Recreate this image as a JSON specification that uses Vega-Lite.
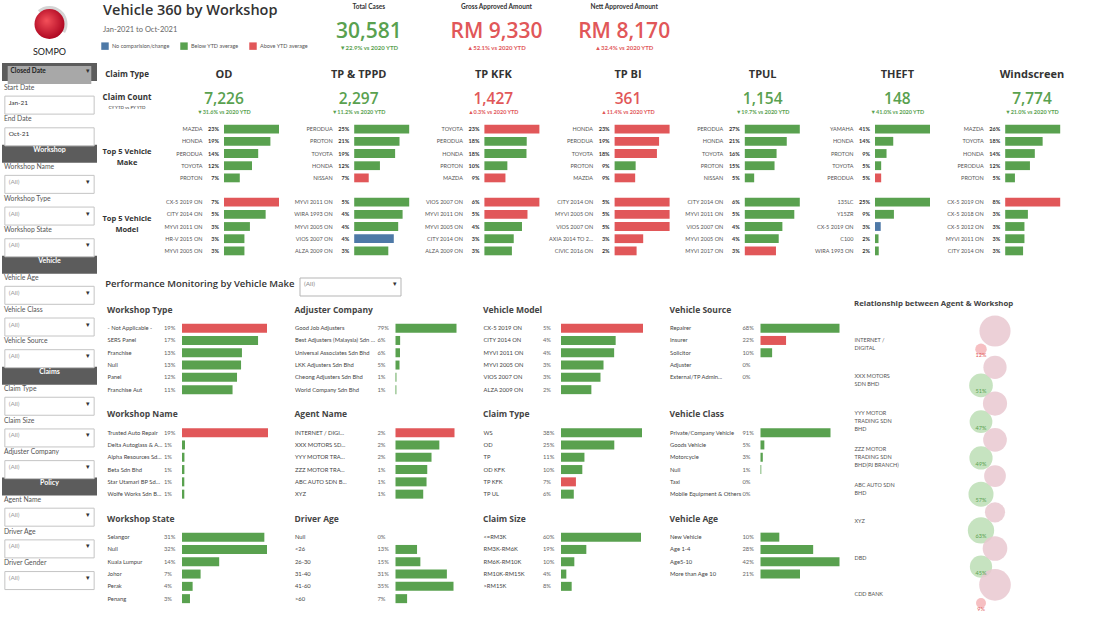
{
 "$schema": "https://vega.github.io/schema/vega-lite/v6.json",
 "background": "white",
 "padding": {"left": 2, "top": 2, "right": 2, "bottom": 2},
 "spacing": 5,
 "config": {
  "font": "Lato",
  "view": {"stroke": null},
  "axis": {"domain": false, "ticks": false, "grid": false, "labelFont": "Lato"},
  "title": {"anchor": "start", "fontSize": 8.5, "fontWeight": "bold", "color": "#444", "font": "Open Sans", "offset": 8},
  "header": {"labelFont": "Lato"},
  "locale": {"number": {"decimal": ".", "thousands": ",", "grouping": [3], "currency": ["RM ", ""]}}
 },
 "datasets": {
  "sidebar": [
   {"row": "Closed Date", "kind": "select", "text": "Closed Date"},
   {"row": "Start Date", "kind": "label", "text": "Start Date"},
   {"row": "Start Date input", "kind": "date", "text": "Jan-21"},
   {"row": "End Date", "kind": "label", "text": "End Date"},
   {"row": "End Date input", "kind": "date", "text": "Oct-21"},
   {"row": "Workshop", "kind": "header", "text": "Workshop"},
   {"row": "Workshop Name", "kind": "label", "text": "Workshop Name"},
   {"row": "Workshop Name input", "kind": "box", "text": "(All)"},
   {"row": "Workshop Type", "kind": "label", "text": "Workshop Type"},
   {"row": "Workshop Type input", "kind": "box", "text": "(All)"},
   {"row": "Workshop State", "kind": "label", "text": "Workshop State"},
   {"row": "Workshop State input", "kind": "box", "text": "(All)"},
   {"row": "Vehicle", "kind": "header", "text": "Vehicle"},
   {"row": "Vehicle Age", "kind": "label", "text": "Vehicle Age"},
   {"row": "Vehicle Age input", "kind": "box", "text": "(All)"},
   {"row": "Vehicle Class", "kind": "label", "text": "Vehicle Class"},
   {"row": "Vehicle Class input", "kind": "box", "text": "(All)"},
   {"row": "Vehicle Source", "kind": "label", "text": "Vehicle Source"},
   {"row": "Vehicle Source input", "kind": "box", "text": "(All)"},
   {"row": "Claims", "kind": "header", "text": "Claims"},
   {"row": "Claim Type", "kind": "label", "text": "Claim Type"},
   {"row": "Claim Type input", "kind": "box", "text": "(All)"},
   {"row": "Claim Size", "kind": "label", "text": "Claim Size"},
   {"row": "Claim Size input", "kind": "box", "text": "(All)"},
   {"row": "Adjuster Company", "kind": "label", "text": "Adjuster Company"},
   {"row": "Adjuster Company input", "kind": "box", "text": "(All)"},
   {"row": "Policy", "kind": "header", "text": "Policy"},
   {"row": "Agent Name", "kind": "label", "text": "Agent Name"},
   {"row": "Agent Name input", "kind": "box", "text": "(All)"},
   {"row": "Driver Age", "kind": "label", "text": "Driver Age"},
   {"row": "Driver Age input", "kind": "box", "text": "(All)"},
   {"row": "Driver Gender", "kind": "label", "text": "Driver Gender"},
   {"row": "Driver Gender input", "kind": "box", "text": "(All)"}
  ],
  "kpis": [
   {"metric": "Total Cases", "value": 30581, "delta": "▼22.9% vs 2020 YTD", "dir": "down"},
   {"metric": "Gross Approved Amount", "value": 9330, "delta": "▲52.1% vs 2020 YTD", "dir": "up"},
   {"metric": "Nett Approved Amount", "value": 8170, "delta": "▲32.4% vs 2020 YTD", "dir": "up"}
  ],
  "claims": [
   {"claim": "OD", "count": 7226, "delta": "▼31.6% vs 2020 YTD", "dir": "down"},
   {"claim": "TP & TPPD", "count": 2297, "delta": "▼11.2% vs 2020 YTD", "dir": "down"},
   {"claim": "TP KFK", "count": 1427, "delta": "▲0.3% vs 2020 YTD", "dir": "up"},
   {"claim": "TP BI", "count": 361, "delta": "▲11.4% vs 2020 YTD", "dir": "up"},
   {"claim": "TPUL", "count": 1154, "delta": "▼19.7% vs 2020 YTD", "dir": "down"},
   {"claim": "THEFT", "count": 148, "delta": "▼41.0% vs 2020 YTD", "dir": "down"},
   {"claim": "Windscreen", "count": 7774, "delta": "▼21.0% vs 2020 YTD", "dir": "down"}
  ],
  "top5": [
   {"claim": "OD", "section": "Make", "label": "MAZDA", "pct": 0.23, "status": "Below"},
   {"claim": "OD", "section": "Make", "label": "HONDA", "pct": 0.194, "status": "Below"},
   {"claim": "OD", "section": "Make", "label": "PERODUA", "pct": 0.143, "status": "Below"},
   {"claim": "OD", "section": "Make", "label": "TOYOTA", "pct": 0.117, "status": "Below"},
   {"claim": "OD", "section": "Make", "label": "PROTON", "pct": 0.066, "status": "Below"},
   {"claim": "OD", "section": "Model", "label": "CX-5 2019 ON", "pct": 0.07, "status": "Above"},
   {"claim": "OD", "section": "Model", "label": "CITY 2014 ON", "pct": 0.053, "status": "Below"},
   {"claim": "OD", "section": "Model", "label": "MYVI 2011 ON", "pct": 0.033, "status": "Below"},
   {"claim": "OD", "section": "Model", "label": "HR-V 2015 ON", "pct": 0.026, "status": "Below"},
   {"claim": "OD", "section": "Model", "label": "MYVI 2005 ON", "pct": 0.026, "status": "Below"},
   {"claim": "TP & TPPD", "section": "Make", "label": "PERODUA", "pct": 0.25, "status": "Below"},
   {"claim": "TP & TPPD", "section": "Make", "label": "PROTON", "pct": 0.206, "status": "Below"},
   {"claim": "TP & TPPD", "section": "Make", "label": "TOYOTA", "pct": 0.186, "status": "Below"},
   {"claim": "TP & TPPD", "section": "Make", "label": "HONDA", "pct": 0.117, "status": "Below"},
   {"claim": "TP & TPPD", "section": "Make", "label": "NISSAN", "pct": 0.066, "status": "Above"},
   {"claim": "TP & TPPD", "section": "Model", "label": "MYVI 2011 ON", "pct": 0.05, "status": "Below"},
   {"claim": "TP & TPPD", "section": "Model", "label": "WIRA 1993 ON", "pct": 0.044, "status": "Below"},
   {"claim": "TP & TPPD", "section": "Model", "label": "MYVI 2005 ON", "pct": 0.04, "status": "Below"},
   {"claim": "TP & TPPD", "section": "Model", "label": "VIOS 2007 ON", "pct": 0.036, "status": "None"},
   {"claim": "TP & TPPD", "section": "Model", "label": "ALZA 2009 ON", "pct": 0.031, "status": "Below"},
   {"claim": "TP KFK", "section": "Make", "label": "TOYOTA", "pct": 0.23, "status": "Above"},
   {"claim": "TP KFK", "section": "Make", "label": "PERODUA", "pct": 0.177, "status": "Below"},
   {"claim": "TP KFK", "section": "Make", "label": "HONDA", "pct": 0.176, "status": "Below"},
   {"claim": "TP KFK", "section": "Make", "label": "PROTON", "pct": 0.096, "status": "Below"},
   {"claim": "TP KFK", "section": "Make", "label": "MAZDA", "pct": 0.088, "status": "Above"},
   {"claim": "TP KFK", "section": "Model", "label": "VIOS 2007 ON", "pct": 0.06, "status": "Above"},
   {"claim": "TP KFK", "section": "Model", "label": "MYVI 2011 ON", "pct": 0.047, "status": "Above"},
   {"claim": "TP KFK", "section": "Model", "label": "MYVI 2005 ON", "pct": 0.041, "status": "Below"},
   {"claim": "TP KFK", "section": "Model", "label": "CITY 2014 ON", "pct": 0.032, "status": "Below"},
   {"claim": "TP KFK", "section": "Model", "label": "ALZA 2009 ON", "pct": 0.03, "status": "Below"},
   {"claim": "TP BI", "section": "Make", "label": "HONDA", "pct": 0.23, "status": "Above"},
   {"claim": "TP BI", "section": "Make", "label": "PERODUA", "pct": 0.186, "status": "Above"},
   {"claim": "TP BI", "section": "Make", "label": "TOYOTA", "pct": 0.177, "status": "Above"},
   {"claim": "TP BI", "section": "Make", "label": "PROTON", "pct": 0.088, "status": "Below"},
   {"claim": "TP BI", "section": "Make", "label": "MAZDA", "pct": 0.086, "status": "Above"},
   {"claim": "TP BI", "section": "Model", "label": "CITY 2014 ON", "pct": 0.05, "status": "Above"},
   {"claim": "TP BI", "section": "Model", "label": "MYVI 2005 ON", "pct": 0.05, "status": "Above"},
   {"claim": "TP BI", "section": "Model", "label": "VIOS 2007 ON", "pct": 0.05, "status": "Above"},
   {"claim": "TP BI", "section": "Model", "label": "AXIA 2014 TO 2019", "pct": 0.026, "status": "Above"},
   {"claim": "TP BI", "section": "Model", "label": "CIVIC 2016 ON", "pct": 0.02, "status": "Above"},
   {"claim": "TPUL", "section": "Make", "label": "PERODUA", "pct": 0.27, "status": "Below"},
   {"claim": "TPUL", "section": "Make", "label": "HONDA", "pct": 0.206, "status": "Below"},
   {"claim": "TPUL", "section": "Make", "label": "TOYOTA", "pct": 0.156, "status": "Below"},
   {"claim": "TPUL", "section": "Make", "label": "PROTON", "pct": 0.146, "status": "Below"},
   {"claim": "TPUL", "section": "Make", "label": "NISSAN", "pct": 0.046, "status": "Below"},
   {"claim": "TPUL", "section": "Model", "label": "CITY 2014 ON", "pct": 0.06, "status": "Below"},
   {"claim": "TPUL", "section": "Model", "label": "MYVI 2011 ON", "pct": 0.054, "status": "Below"},
   {"claim": "TPUL", "section": "Model", "label": "VIOS 2007 ON", "pct": 0.041, "status": "Below"},
   {"claim": "TPUL", "section": "Model", "label": "MYVI 2005 ON", "pct": 0.037, "status": "Below"},
   {"claim": "TPUL", "section": "Model", "label": "MYVI 2017 ON", "pct": 0.034, "status": "Above"},
   {"claim": "THEFT", "section": "Make", "label": "YAMAHA", "pct": 0.41, "status": "Below"},
   {"claim": "THEFT", "section": "Make", "label": "HONDA", "pct": 0.136, "status": "Below"},
   {"claim": "THEFT", "section": "Make", "label": "PROTON", "pct": 0.086, "status": "Below"},
   {"claim": "THEFT", "section": "Make", "label": "TOYOTA", "pct": 0.046, "status": "Below"},
   {"claim": "THEFT", "section": "Make", "label": "PERODUA", "pct": 0.046, "status": "Above"},
   {"claim": "THEFT", "section": "Model", "label": "135LC", "pct": 0.25, "status": "Below"},
   {"claim": "THEFT", "section": "Model", "label": "Y15ZR", "pct": 0.086, "status": "Below"},
   {"claim": "THEFT", "section": "Model", "label": "CX-5 2019 ON", "pct": 0.026, "status": "None"},
   {"claim": "THEFT", "section": "Model", "label": "C100", "pct": 0.016, "status": "Below"},
   {"claim": "THEFT", "section": "Model", "label": "WIRA 1993 ON", "pct": 0.017, "status": "Below"},
   {"claim": "Windscreen", "section": "Make", "label": "MAZDA", "pct": 0.26, "status": "Below"},
   {"claim": "Windscreen", "section": "Make", "label": "TOYOTA", "pct": 0.177, "status": "Below"},
   {"claim": "Windscreen", "section": "Make", "label": "HONDA", "pct": 0.14, "status": "Below"},
   {"claim": "Windscreen", "section": "Make", "label": "PERODUA", "pct": 0.117, "status": "Below"},
   {"claim": "Windscreen", "section": "Make", "label": "PROTON", "pct": 0.046, "status": "Below"},
   {"claim": "Windscreen", "section": "Model", "label": "CX-5 2019 ON", "pct": 0.08, "status": "Above"},
   {"claim": "Windscreen", "section": "Model", "label": "CX-5 2018 ON", "pct": 0.033, "status": "Below"},
   {"claim": "Windscreen", "section": "Model", "label": "CX-5 2012 ON", "pct": 0.028, "status": "Below"},
   {"claim": "Windscreen", "section": "Model", "label": "MYVI 2011 ON", "pct": 0.028, "status": "Below"},
   {"claim": "Windscreen", "section": "Model", "label": "CITY 2014 ON", "pct": 0.026, "status": "Below"}
  ],
  "panels": [
   {"panel": "Workshop Type", "label": "- Not Applicable -", "pct": 0.19, "status": "Above"},
   {"panel": "Workshop Type", "label": "SERS Panel", "pct": 0.17, "status": "Below"},
   {"panel": "Workshop Type", "label": "Franchise", "pct": 0.134, "status": "Below"},
   {"panel": "Workshop Type", "label": "Null", "pct": 0.132, "status": "Below"},
   {"panel": "Workshop Type", "label": "Panel", "pct": 0.123, "status": "Below"},
   {"panel": "Workshop Type", "label": "Franchise Aut", "pct": 0.113, "status": "Below"},
   {"panel": "Adjuster Company", "label": "Good Job Adjusters", "pct": 0.79, "status": "Below"},
   {"panel": "Adjuster Company", "label": "Best Adjusters (Malaysia) Sdn Bhd", "pct": 0.06, "status": "Below"},
   {"panel": "Adjuster Company", "label": "Universal Associates Sdn Bhd", "pct": 0.058, "status": "Below"},
   {"panel": "Adjuster Company", "label": "LKK Adjusters Sdn Bhd", "pct": 0.052, "status": "Below"},
   {"panel": "Adjuster Company", "label": "Cheong Adjusters Sdn Bhd", "pct": 0.012, "status": "Below"},
   {"panel": "Adjuster Company", "label": "World Company Sdn Bhd", "pct": 0.011, "status": "Below"},
   {"panel": "Vehicle Model", "label": "CX-5 2019 ON", "pct": 0.054, "status": "Above"},
   {"panel": "Vehicle Model", "label": "CITY 2014 ON", "pct": 0.036, "status": "Below"},
   {"panel": "Vehicle Model", "label": "MYVI 2011 ON", "pct": 0.035, "status": "Below"},
   {"panel": "Vehicle Model", "label": "MYVI 2005 ON", "pct": 0.028, "status": "Below"},
   {"panel": "Vehicle Model", "label": "VIOS 2007 ON", "pct": 0.026, "status": "Below"},
   {"panel": "Vehicle Model", "label": "ALZA 2009 ON", "pct": 0.02, "status": "Below"},
   {"panel": "Vehicle Source", "label": "Repairer", "pct": 0.68, "status": "Below"},
   {"panel": "Vehicle Source", "label": "Insurer", "pct": 0.22, "status": "Above"},
   {"panel": "Vehicle Source", "label": "Solicitor", "pct": 0.1, "status": "Below"},
   {"panel": "Vehicle Source", "label": "Adjuster", "pct": 0, "status": "Below"},
   {"panel": "Vehicle Source", "label": "External/TP Admin...", "pct": 0, "status": "Below"},
   {"panel": "Workshop Name", "label": "Trusted Auto Repair", "pct": 0.19, "status": "Above"},
   {"panel": "Workshop Name", "label": "Delta Autoglass & Acce...", "pct": 0.0066, "status": "Below"},
   {"panel": "Workshop Name", "label": "Alpha Resources Sdn B...", "pct": 0.0054, "status": "Below"},
   {"panel": "Workshop Name", "label": "Beta Sdn Bhd", "pct": 0.0053, "status": "Below"},
   {"panel": "Workshop Name", "label": "Star Utamari BP Sdn B...", "pct": 0.0051, "status": "Below"},
   {"panel": "Workshop Name", "label": "Wolfe Works Sdn Bhd", "pct": 0.0051, "status": "Below"},
   {"panel": "Agent Name", "label": "INTERNET / DIGI...", "pct": 0.0249, "status": "Above"},
   {"panel": "Agent Name", "label": "XXX MOTORS SD...", "pct": 0.0185, "status": "Below"},
   {"panel": "Agent Name", "label": "YYY MOTOR TRA...", "pct": 0.0152, "status": "Below"},
   {"panel": "Agent Name", "label": "ZZZ MOTOR TRA...", "pct": 0.0134, "status": "Below"},
   {"panel": "Agent Name", "label": "ABC AUTO SDN B...", "pct": 0.0131, "status": "Below"},
   {"panel": "Agent Name", "label": "XYZ", "pct": 0.0117, "status": "Below"},
   {"panel": "Claim Type", "label": "WS", "pct": 0.38, "status": "Below"},
   {"panel": "Claim Type", "label": "OD", "pct": 0.25, "status": "Below"},
   {"panel": "Claim Type", "label": "TP", "pct": 0.11, "status": "Below"},
   {"panel": "Claim Type", "label": "OD KFK", "pct": 0.1, "status": "Below"},
   {"panel": "Claim Type", "label": "TP KFK", "pct": 0.07, "status": "Above"},
   {"panel": "Claim Type", "label": "TP UL", "pct": 0.06, "status": "Below"},
   {"panel": "Vehicle Class", "label": "Private/Company Vehicle", "pct": 0.91, "status": "Below"},
   {"panel": "Vehicle Class", "label": "Goods Vehicle", "pct": 0.05, "status": "Below"},
   {"panel": "Vehicle Class", "label": "Motorcycle", "pct": 0.03, "status": "Below"},
   {"panel": "Vehicle Class", "label": "Null", "pct": 0.01, "status": "Below"},
   {"panel": "Vehicle Class", "label": "Taxi", "pct": 0, "status": "Below"},
   {"panel": "Vehicle Class", "label": "Mobile Equipment & Others", "pct": 0, "status": "Below"},
   {"panel": "Workshop State", "label": "Selangor", "pct": 0.31, "status": "Below"},
   {"panel": "Workshop State", "label": "Null", "pct": 0.32, "status": "Below"},
   {"panel": "Workshop State", "label": "Kuala Lumpur", "pct": 0.14, "status": "Below"},
   {"panel": "Workshop State", "label": "Johor", "pct": 0.07, "status": "Below"},
   {"panel": "Workshop State", "label": "Perak", "pct": 0.04, "status": "Below"},
   {"panel": "Workshop State", "label": "Penang", "pct": 0.03, "status": "Below"},
   {"panel": "Driver Age", "label": "Null", "pct": 0, "status": "Below"},
   {"panel": "Driver Age", "label": "<26", "pct": 0.13, "status": "Below"},
   {"panel": "Driver Age", "label": "26-30", "pct": 0.15, "status": "Below"},
   {"panel": "Driver Age", "label": "31-40", "pct": 0.31, "status": "Below"},
   {"panel": "Driver Age", "label": "41-60", "pct": 0.35, "status": "Below"},
   {"panel": "Driver Age", "label": ">60", "pct": 0.07, "status": "Below"},
   {"panel": "Claim Size", "label": "<=RM3K", "pct": 0.6, "status": "Below"},
   {"panel": "Claim Size", "label": "RM3K-RM6K", "pct": 0.19, "status": "Below"},
   {"panel": "Claim Size", "label": "RM6K-RM10K", "pct": 0.1, "status": "Below"},
   {"panel": "Claim Size", "label": "RM10K-RM15K", "pct": 0.04, "status": "Below"},
   {"panel": "Claim Size", "label": ">RM15K", "pct": 0.08, "status": "Below"},
   {"panel": "Vehicle Age", "label": "New Vehicle", "pct": 0.1, "status": "Below"},
   {"panel": "Vehicle Age", "label": "Age 1-4", "pct": 0.28, "status": "Below"},
   {"panel": "Vehicle Age", "label": "Age5-10", "pct": 0.42, "status": "Below"},
   {"panel": "Vehicle Age", "label": "More than Age 10", "pct": 0.21, "status": "Below"}
  ],
  "agents": [
   {"agent": "INTERNET / DIGITAL", "part": "Top workshop", "share": 0.12, "status": "Above"},
   {"agent": "INTERNET / DIGITAL", "part": "Other workshops", "share": 0.88, "status": "Mixed"},
   {"agent": "XXX MOTORS SDN BHD", "part": "Top workshop", "share": 0.51, "status": "Below"},
   {"agent": "XXX MOTORS SDN BHD", "part": "Other workshops", "share": 0.49, "status": "Mixed"},
   {"agent": "YYY MOTOR TRADING SDN BHD", "part": "Top workshop", "share": 0.47, "status": "Below"},
   {"agent": "YYY MOTOR TRADING SDN BHD", "part": "Other workshops", "share": 0.53, "status": "Mixed"},
   {"agent": "ZZZ MOTOR TRADING SDN BHD(PJ BRANCH)", "part": "Top workshop", "share": 0.49, "status": "Below"},
   {"agent": "ZZZ MOTOR TRADING SDN BHD(PJ BRANCH)", "part": "Other workshops", "share": 0.51, "status": "Mixed"},
   {"agent": "ABC AUTO SDN BHD", "part": "Top workshop", "share": 0.57, "status": "Below"},
   {"agent": "ABC AUTO SDN BHD", "part": "Other workshops", "share": 0.43, "status": "Mixed"},
   {"agent": "XYZ", "part": "Top workshop", "share": 0.63, "status": "Below"},
   {"agent": "XYZ", "part": "Other workshops", "share": 0.37, "status": "Mixed"},
   {"agent": "DBD", "part": "Top workshop", "share": 0.45, "status": "Below"},
   {"agent": "DBD", "part": "Other workshops", "share": 0.55, "status": "Mixed"},
   {"agent": "CDD BANK", "part": "Top workshop", "share": 0.09, "status": "Above"},
   {"agent": "CDD BANK", "part": "Other workshops", "share": 0.91, "status": "Mixed"}
  ]
 },
 "hconcat": [
  {
   "spacing": 6,
   "vconcat": [
    {
     "data": {"values": [{"brand": "SOMPO"}]},
     "width": 95, "height": 44,
     "title": {"text": "SOMPO", "orient": "bottom", "anchor": "middle", "fontSize": 9, "fontWeight": "normal", "color": "#1a1a1a", "font": "Lato", "offset": 2},
     "layer": [
      {"mark": {"type": "arc", "innerRadius": 14, "outerRadius": 18, "theta": -0.7, "theta2": 2.1, "color": "#d4d4d4"}, "encoding": {}},
      {"mark": {"type": "arc", "outerRadius": 15, "theta": 0, "theta2": 6.2832, "color": {"gradient": "radial", "x1": 0.4, "y1": 0.38, "r1": 0, "x2": 0.45, "y2": 0.45, "r2": 0.62, "stops": [{"offset": 0, "color": "#f4505a"}, {"offset": 1, "color": "#a8001c"}]}}, "encoding": {}}
     ]
    },
    {
     "data": {"name": "sidebar"},
     "width": 95, "height": 523,
     "encoding": {"y": {"field": "row", "type": "nominal", "scale": {"domain": ["Closed Date", "Start Date", "Start Date input", "End Date", "End Date input", "Workshop", "Workshop Name", "Workshop Name input", "Workshop Type", "Workshop Type input", "Workshop State", "Workshop State input", "Vehicle", "Vehicle Age", "Vehicle Age input", "Vehicle Class", "Vehicle Class input", "Vehicle Source", "Vehicle Source input", "Claims", "Claim Type", "Claim Type input", "Claim Size", "Claim Size input", "Adjuster Company", "Adjuster Company input", "Policy", "Agent Name", "Agent Name input", "Driver Age", "Driver Age input", "Driver Gender", "Driver Gender input"], "paddingInner": 0, "paddingOuter": 0}, "axis": null}},
     "layer": [
      {"transform": [{"filter": "datum.kind == 'select'"}], "mark": {"type": "bar", "color": "#5c5c5c"}, "encoding": {"x": {"datum": 0, "type": "quantitative", "scale": {"domain": [0, 1], "nice": false, "zero": false}, "axis": null}, "x2": {"datum": 1}}},
      {"transform": [{"filter": "datum.kind == 'select'"}], "mark": {"type": "bar", "color": "#a8a8a8", "height": {"band": 0.62}}, "encoding": {"x": {"datum": 0.06, "type": "quantitative"}, "x2": {"datum": 0.94}}},
      {"transform": [{"filter": "datum.kind == 'header'"}], "mark": {"type": "bar", "color": "#5c5c5c", "height": {"band": 0.68}}, "encoding": {"x": {"datum": 0, "type": "quantitative"}, "x2": {"datum": 1}}},
      {"transform": [{"filter": "datum.kind == 'box' || datum.kind == 'date'"}], "mark": {"type": "bar", "fill": "white", "stroke": "#c4c4c4", "strokeWidth": 1, "height": {"band": 0.82}}, "encoding": {"x": {"datum": 0.03, "type": "quantitative"}, "x2": {"datum": 0.97}}},
      {"transform": [{"filter": "datum.kind == 'header'"}], "mark": {"type": "text", "color": "white", "fontWeight": "bold", "fontSize": 7}, "encoding": {"x": {"datum": 0.5, "type": "quantitative"}, "text": {"field": "text"}}},
      {"transform": [{"filter": "datum.kind == 'label'"}], "mark": {"type": "text", "align": "left", "color": "#555", "fontSize": 6.8, "dy": 1}, "encoding": {"x": {"datum": 0.02, "type": "quantitative"}, "text": {"field": "text"}}},
      {"transform": [{"filter": "datum.kind == 'select'"}], "mark": {"type": "text", "align": "left", "color": "#222", "fontWeight": "bold", "fontSize": 6.5}, "encoding": {"x": {"datum": 0.09, "type": "quantitative"}, "text": {"field": "text"}}},
      {"transform": [{"filter": "datum.kind == 'box'"}], "mark": {"type": "text", "align": "left", "color": "#9a9a9a", "fontSize": 6.5}, "encoding": {"x": {"datum": 0.07, "type": "quantitative"}, "text": {"field": "text"}}},
      {"transform": [{"filter": "datum.kind == 'date'"}], "mark": {"type": "text", "align": "left", "color": "#333", "fontSize": 6.5}, "encoding": {"x": {"datum": 0.07, "type": "quantitative"}, "text": {"field": "text"}}},
      {"transform": [{"filter": "datum.kind == 'box' || datum.kind == 'select'"}], "mark": {"type": "text", "align": "right", "color": "#333", "fontSize": 7}, "encoding": {"x": {"datum": 0.93, "type": "quantitative"}, "text": {"value": "▾"}}}
     ]
    }
   ]
  },
  {
   "spacing": 15,
   "vconcat": [
    {
     "spacing": 6,
     "vconcat": [
      {
       "spacing": 12,
       "hconcat": [
        {
         "data": {"values": [{"line": "title", "text": "Vehicle 360 by Workshop"}, {"line": "subtitle", "text": "Jan-2021 to Oct-2021"}]},
         "width": 190, "height": 52,
         "encoding": {
          "x": {"datum": 0, "type": "quantitative", "scale": {"domain": [0, 1], "nice": false}, "axis": null},
          "y": {"field": "line", "type": "nominal", "scale": {"domain": ["title", "subtitle", "legend"], "paddingInner": 0, "paddingOuter": 0}, "axis": null},
          "text": {"field": "text"}
         },
         "layer": [
          {"transform": [{"filter": "datum.line == 'title'"}], "mark": {"type": "text", "align": "left", "fontSize": 14.5, "fontWeight": 600, "font": "Open Sans", "color": "#333"}},
          {"transform": [{"filter": "datum.line == 'subtitle'"}], "mark": {"type": "text", "align": "left", "fontSize": 7.5, "color": "#666", "dy": 2}}
         ]
        },
        {
         "data": {"name": "kpis"},
         "width": 383, "height": 52,
         "encoding": {"x": {"field": "metric", "type": "nominal", "scale": {"domain": ["Total Cases", "Gross Approved Amount", "Nett Approved Amount"], "paddingInner": 0, "paddingOuter": 0}, "axis": null}},
         "layer": [
          {"mark": {"type": "text", "fontSize": 6.5, "fontWeight": "bold", "color": "#333", "dy": -4}, "encoding": {"y": {"datum": "metric", "type": "nominal", "scale": {"domain": ["metric", "value", "delta"], "paddingInner": 0, "paddingOuter": 0}, "axis": null}, "text": {"field": "metric"}}},
          {"transform": [{"filter": "datum.metric == 'Total Cases'"}], "mark": {"type": "text", "fontSize": 21, "font": "Open Sans", "fontWeight": 600, "dy": 4}, "encoding": {"y": {"datum": "value", "type": "nominal"}, "text": {"field": "value", "type": "quantitative", "format": ","}, "color": {"condition": {"test": "datum.dir == 'up'", "value": "#e15759"}, "value": "#59a14f"}}},
          {"transform": [{"filter": "datum.metric != 'Total Cases'"}], "mark": {"type": "text", "fontSize": 21, "font": "Open Sans", "fontWeight": 600, "dy": 4}, "encoding": {"y": {"datum": "value", "type": "nominal"}, "text": {"field": "value", "type": "quantitative", "format": "$,"}, "color": {"condition": {"test": "datum.dir == 'up'", "value": "#e15759"}, "value": "#59a14f"}}},
          {"mark": {"type": "text", "fontSize": 6, "fontWeight": "bold", "dy": 3}, "encoding": {"y": {"datum": "delta", "type": "nominal"}, "text": {"field": "delta"}, "color": {"condition": {"test": "datum.dir == 'up'", "value": "#e15759"}, "value": "#59a14f"}}}
         ]
        }
       ]
      },
      {
       "spacing": 4,
       "hconcat": [
        {
         "spacing": 5,
         "vconcat": [
          {
           "data": {"values": [{"line": "Claim Type"}, {"line": "Claim Count"}]},
           "width": 48, "height": 58,
           "encoding": {
            "x": {"datum": 0.5, "type": "quantitative", "scale": {"domain": [0, 1], "nice": false}, "axis": null},
            "y": {"field": "line", "type": "nominal", "scale": {"domain": ["Claim Type", "Claim Count"], "paddingInner": 0, "paddingOuter": 0}, "axis": null}
           },
           "layer": [
            {"transform": [{"filter": "datum.line == 'Claim Type'"}], "mark": {"type": "text", "fontSize": 8, "fontWeight": "bold", "font": "Open Sans", "color": "#333"}, "encoding": {"text": {"field": "line"}}},
            {"transform": [{"filter": "datum.line == 'Claim Count'"}], "mark": {"type": "text", "fontSize": 8, "fontWeight": "bold", "font": "Open Sans", "color": "#333", "dy": -6}, "encoding": {"text": {"field": "line"}}},
            {"transform": [{"filter": "datum.line == 'Claim Count'"}], "mark": {"type": "text", "fontSize": 4.5, "color": "#333", "dy": 4}, "encoding": {"text": {"value": "CY YTD vs PY YTD"}}}
           ]
          },
          {
           "data": {"values": [{"section": "Make"}, {"section": "Model"}]},
           "width": 48, "height": 134,
           "encoding": {
            "x": {"datum": 0.5, "type": "quantitative", "scale": {"domain": [0, 1], "nice": false}, "axis": null},
            "y": {"field": "section", "type": "nominal", "scale": {"domain": ["Make", "Model"], "paddingInner": 0.12, "paddingOuter": 0}, "axis": null}
           },
           "layer": [
            {"mark": {"type": "text", "fontSize": 7.5, "fontWeight": "bold", "font": "Open Sans", "color": "#333", "dy": -5}, "encoding": {"text": {"value": "Top 5 Vehicle"}}},
            {"mark": {"type": "text", "fontSize": 7.5, "fontWeight": "bold", "font": "Open Sans", "color": "#333", "dy": 6}, "encoding": {"text": {"field": "section"}}}
           ]
          }
         ]
        },
        {
         "spacing": 5,
         "vconcat": [
          {
           "data": {"name": "claims"},
           "width": 808, "height": 58,
           "encoding": {"x": {"field": "claim", "type": "nominal", "sort": ["OD", "TP & TPPD", "TP KFK", "TP BI", "TPUL", "THEFT", "Windscreen"], "scale": {"type": "point", "padding": 0}, "axis": null}},
           "layer": [
            {"mark": {"type": "text", "fontSize": 11, "fontWeight": "bold", "font": "Open Sans", "color": "#333"}, "encoding": {"y": {"datum": "Claim Type", "type": "nominal", "scale": {"domain": ["Claim Type", "Claim Count"], "paddingInner": 0, "paddingOuter": 0}, "axis": null}, "text": {"field": "claim"}}},
            {"mark": {"type": "text", "fontSize": 15.5, "fontWeight": 600, "font": "Open Sans", "dy": -5}, "encoding": {"y": {"datum": "Claim Count", "type": "nominal"}, "text": {"field": "count", "type": "quantitative", "format": ","}, "color": {"condition": {"test": "datum.dir == 'up'", "value": "#e15759"}, "value": "#59a14f"}}},
            {"mark": {"type": "text", "fontSize": 5.5, "fontWeight": "bold", "dy": 8}, "encoding": {"y": {"datum": "Claim Count", "type": "nominal"}, "text": {"field": "delta"}, "color": {"condition": {"test": "datum.dir == 'up'", "value": "#e15759"}, "value": "#59a14f"}}}
           ]
          },
          {
           "data": {"name": "top5"},
           "facet": {
            "row": {"field": "section", "type": "nominal", "sort": ["Make", "Model"], "title": null, "header": {"labels": false}},
            "column": {"field": "claim", "type": "nominal", "sort": ["OD", "TP & TPPD", "TP KFK", "TP BI", "TPUL", "THEFT", "Windscreen"], "title": null, "header": {"labels": false}}
           },
           "spacing": {"row": 12, "column": 2.2},
           "resolve": {"scale": {"x": "independent", "y": "independent"}},
           "spec": {
            "width": 55, "height": 61,
            "encoding": {
             "y": {"field": "label", "type": "nominal", "sort": null, "scale": {"type": "band", "paddingInner": 0, "paddingOuter": 0}, "axis": {"title": null, "labelFontSize": 5.5, "labelColor": "#555", "labelPadding": 22, "labelLimit": 45, "minExtent": 68, "maxExtent": 68, "labelOverlap": false}}
            },
            "layer": [
             {"mark": {"type": "rule", "strokeWidth": 8.8, "strokeCap": "butt"}, "encoding": {"x": {"field": "pct", "type": "quantitative", "scale": {"nice": false, "zero": true}, "axis": null}, "x2": {"datum": 0}, "color": {"field": "status", "type": "nominal", "scale": {"domain": ["None", "Below", "Above"], "range": ["#4e79a7", "#59a14f", "#e15759"]}, "legend": {"title": null, "orient": "none", "legendX": 99, "legendY": 40, "direction": "horizontal", "symbolType": "square", "symbolSize": 12, "symbolStrokeWidth": 4, "labelFontSize": 5.5, "labelColor": "#555", "columnPadding": 4, "labelOffset": 3, "labelExpr": "datum.value == 'None' ? 'No comparision/change' : datum.value == 'Below' ? 'Below YTD average' : 'Above YTD average'"}}}},
             {"mark": {"type": "text", "align": "right", "dx": -5, "fontSize": 5.5, "fontWeight": "bold", "color": "#333"}, "encoding": {"x": {"datum": 0, "type": "quantitative"}, "text": {"field": "pct", "type": "quantitative", "format": ".0%"}}}
            ]
           }
          }
         ]
        }
       ]
      }
     ]
    },
    {
     "spacing": 2,
     "vconcat": [
      {
       "spacing": 0,
       "hconcat": [
        {"data": {"values": [{}]}, "width": 1, "height": 1, "mark": {"type": "text", "text": ""}, "encoding": {}},
        {
         "data": {"values": [{"selection": "(All)"}]},
         "width": 101, "height": 12,
         "encoding": {"y": {"datum": "Performance Monitoring by Vehicle Make", "type": "nominal", "scale": {"paddingInner": 0, "paddingOuter": 0}, "axis": {"title": null, "labelFontSize": 9.5, "labelFontWeight": 600, "labelFont": "Open Sans", "labelColor": "#333", "labelPadding": 6, "labelLimit": 300}}},
         "layer": [
          {"mark": {"type": "bar", "fill": "white", "stroke": "#b5b5b5", "strokeWidth": 1}, "encoding": {"x": {"datum": 0, "type": "quantitative", "scale": {"domain": [0, 1], "nice": false}, "axis": null}, "x2": {"datum": 1}}},
          {"mark": {"type": "text", "align": "left", "dx": 4, "fontSize": 6.5, "color": "#888"}, "encoding": {"x": {"datum": 0, "type": "quantitative"}, "text": {"field": "selection"}}},
          {"mark": {"type": "text", "align": "right", "dx": -4, "fontSize": 7, "color": "#333"}, "encoding": {"x": {"datum": 1, "type": "quantitative"}, "text": {"value": "▾"}}}
         ]
        }
       ]
      },
      {
       "spacing": 3,
       "hconcat": [
        {"data": {"values": [{}]}, "width": 1, "height": 1, "mark": {"type": "text", "text": ""}, "encoding": {}},
        {
         "spacing": 10,
         "hconcat": [
          {
           "columns": 4,
           "align": "each",
           "spacing": {"row": 13.5, "column": 21.5},
           "concat": [
            {"title": "Workshop Type", "data": {"name": "panels"}, "transform": [{"filter": "datum.panel == 'Workshop Type'"}], "width": 85, "height": {"step": 12.3},
             "encoding": {"y": {"field": "label", "type": "nominal", "sort": null, "scale": {"type": "band", "paddingInner": 0, "paddingOuter": 0}, "axis": {"title": null, "labelAlign": "left", "labelPadding": 75, "labelLimit": 56, "labelFontSize": 5.8, "labelColor": "#444", "labelOverlap": false}}},
             "layer": [{"mark": {"type": "rule", "strokeWidth": 9, "strokeCap": "butt"}, "encoding": {"x": {"field": "pct", "type": "quantitative", "scale": {"nice": false, "zero": true}, "axis": null}, "x2": {"datum": 0}, "color": {"field": "status", "type": "nominal", "scale": {"domain": ["None", "Below", "Above"], "range": ["#4e79a7", "#59a14f", "#e15759"]}, "legend": null}}},
                       {"mark": {"type": "text", "align": "left", "dx": -18, "fontSize": 5.8, "color": "#666"}, "encoding": {"x": {"datum": 0, "type": "quantitative"}, "text": {"field": "pct", "type": "quantitative", "format": ".0%"}}}]},
            {"title": "Adjuster Company", "data": {"name": "panels"}, "transform": [{"filter": "datum.panel == 'Adjuster Company'"}], "width": 61, "height": {"step": 12.3},
             "encoding": {"y": {"field": "label", "type": "nominal", "sort": null, "scale": {"type": "band", "paddingInner": 0, "paddingOuter": 0}, "axis": {"title": null, "labelAlign": "left", "labelPadding": 101, "labelLimit": 82, "labelFontSize": 5.8, "labelColor": "#444", "labelOverlap": false}}},
             "layer": [{"mark": {"type": "rule", "strokeWidth": 9, "strokeCap": "butt"}, "encoding": {"x": {"field": "pct", "type": "quantitative", "scale": {"nice": false, "zero": true}, "axis": null}, "x2": {"datum": 0}, "color": {"field": "status", "type": "nominal", "scale": {"domain": ["None", "Below", "Above"], "range": ["#4e79a7", "#59a14f", "#e15759"]}, "legend": null}}},
                       {"mark": {"type": "text", "align": "left", "dx": -18, "fontSize": 5.8, "color": "#666"}, "encoding": {"x": {"datum": 0, "type": "quantitative"}, "text": {"field": "pct", "type": "quantitative", "format": ".0%"}}}]},
            {"title": "Vehicle Model", "data": {"name": "panels"}, "transform": [{"filter": "datum.panel == 'Vehicle Model'"}], "width": 82, "height": {"step": 12.3},
             "encoding": {"y": {"field": "label", "type": "nominal", "sort": null, "scale": {"type": "band", "paddingInner": 0, "paddingOuter": 0}, "axis": {"title": null, "labelAlign": "left", "labelPadding": 78, "labelLimit": 59, "labelFontSize": 5.8, "labelColor": "#444", "labelOverlap": false}}},
             "layer": [{"mark": {"type": "rule", "strokeWidth": 9, "strokeCap": "butt"}, "encoding": {"x": {"field": "pct", "type": "quantitative", "scale": {"nice": false, "zero": true}, "axis": null}, "x2": {"datum": 0}, "color": {"field": "status", "type": "nominal", "scale": {"domain": ["None", "Below", "Above"], "range": ["#4e79a7", "#59a14f", "#e15759"]}, "legend": null}}},
                       {"mark": {"type": "text", "align": "left", "dx": -18, "fontSize": 5.8, "color": "#666"}, "encoding": {"x": {"datum": 0, "type": "quantitative"}, "text": {"field": "pct", "type": "quantitative", "format": ".0%"}}}]},
            {"title": "Vehicle Source", "data": {"name": "panels"}, "transform": [{"filter": "datum.panel == 'Vehicle Source'"}], "width": 79, "height": {"step": 12.3},
             "encoding": {"y": {"field": "label", "type": "nominal", "sort": null, "scale": {"type": "band", "paddingInner": 0, "paddingOuter": 0}, "axis": {"title": null, "labelAlign": "left", "labelPadding": 91, "labelLimit": 72, "labelFontSize": 5.8, "labelColor": "#444", "labelOverlap": false}}},
             "layer": [{"mark": {"type": "rule", "strokeWidth": 9, "strokeCap": "butt"}, "encoding": {"x": {"field": "pct", "type": "quantitative", "scale": {"nice": false, "zero": true}, "axis": null}, "x2": {"datum": 0}, "color": {"field": "status", "type": "nominal", "scale": {"domain": ["None", "Below", "Above"], "range": ["#4e79a7", "#59a14f", "#e15759"]}, "legend": null}}},
                       {"mark": {"type": "text", "align": "left", "dx": -18, "fontSize": 5.8, "color": "#666"}, "encoding": {"x": {"datum": 0, "type": "quantitative"}, "text": {"field": "pct", "type": "quantitative", "format": ".0%"}}}]},
            {"title": "Workshop Name", "data": {"name": "panels"}, "transform": [{"filter": "datum.panel == 'Workshop Name'"}], "width": 86, "height": {"step": 12.3},
             "encoding": {"y": {"field": "label", "type": "nominal", "sort": null, "scale": {"type": "band", "paddingInner": 0, "paddingOuter": 0}, "axis": {"title": null, "labelAlign": "left", "labelPadding": 75, "labelLimit": 56, "labelFontSize": 5.8, "labelColor": "#444", "labelOverlap": false}}},
             "layer": [{"mark": {"type": "rule", "strokeWidth": 9, "strokeCap": "butt"}, "encoding": {"x": {"field": "pct", "type": "quantitative", "scale": {"nice": false, "zero": true}, "axis": null}, "x2": {"datum": 0}, "color": {"field": "status", "type": "nominal", "scale": {"domain": ["None", "Below", "Above"], "range": ["#4e79a7", "#59a14f", "#e15759"]}, "legend": null}}},
                       {"mark": {"type": "text", "align": "left", "dx": -18, "fontSize": 5.8, "color": "#666"}, "encoding": {"x": {"datum": 0, "type": "quantitative"}, "text": {"field": "pct", "type": "quantitative", "format": ".0%"}}}]},
            {"title": "Agent Name", "data": {"name": "panels"}, "transform": [{"filter": "datum.panel == 'Agent Name'"}], "width": 59, "height": {"step": 12.3},
             "encoding": {"y": {"field": "label", "type": "nominal", "sort": null, "scale": {"type": "band", "paddingInner": 0, "paddingOuter": 0}, "axis": {"title": null, "labelAlign": "left", "labelPadding": 101, "labelLimit": 82, "labelFontSize": 5.8, "labelColor": "#444", "labelOverlap": false}}},
             "layer": [{"mark": {"type": "rule", "strokeWidth": 9, "strokeCap": "butt"}, "encoding": {"x": {"field": "pct", "type": "quantitative", "scale": {"nice": false, "zero": true}, "axis": null}, "x2": {"datum": 0}, "color": {"field": "status", "type": "nominal", "scale": {"domain": ["None", "Below", "Above"], "range": ["#4e79a7", "#59a14f", "#e15759"]}, "legend": null}}},
                       {"mark": {"type": "text", "align": "left", "dx": -18, "fontSize": 5.8, "color": "#666"}, "encoding": {"x": {"datum": 0, "type": "quantitative"}, "text": {"field": "pct", "type": "quantitative", "format": ".0%"}}}]},
            {"title": "Claim Type", "data": {"name": "panels"}, "transform": [{"filter": "datum.panel == 'Claim Type'"}], "width": 81, "height": {"step": 12.3},
             "encoding": {"y": {"field": "label", "type": "nominal", "sort": null, "scale": {"type": "band", "paddingInner": 0, "paddingOuter": 0}, "axis": {"title": null, "labelAlign": "left", "labelPadding": 78, "labelLimit": 59, "labelFontSize": 5.8, "labelColor": "#444", "labelOverlap": false}}},
             "layer": [{"mark": {"type": "rule", "strokeWidth": 9, "strokeCap": "butt"}, "encoding": {"x": {"field": "pct", "type": "quantitative", "scale": {"nice": false, "zero": true}, "axis": null}, "x2": {"datum": 0}, "color": {"field": "status", "type": "nominal", "scale": {"domain": ["None", "Below", "Above"], "range": ["#4e79a7", "#59a14f", "#e15759"]}, "legend": null}}},
                       {"mark": {"type": "text", "align": "left", "dx": -18, "fontSize": 5.8, "color": "#666"}, "encoding": {"x": {"datum": 0, "type": "quantitative"}, "text": {"field": "pct", "type": "quantitative", "format": ".0%"}}}]},
            {"title": "Vehicle Class", "data": {"name": "panels"}, "transform": [{"filter": "datum.panel == 'Vehicle Class'"}], "width": 70, "height": {"step": 12.3},
             "encoding": {"y": {"field": "label", "type": "nominal", "sort": null, "scale": {"type": "band", "paddingInner": 0, "paddingOuter": 0}, "axis": {"title": null, "labelAlign": "left", "labelPadding": 91, "labelLimit": 72, "labelFontSize": 5.8, "labelColor": "#444", "labelOverlap": false}}},
             "layer": [{"mark": {"type": "rule", "strokeWidth": 9, "strokeCap": "butt"}, "encoding": {"x": {"field": "pct", "type": "quantitative", "scale": {"nice": false, "zero": true}, "axis": null}, "x2": {"datum": 0}, "color": {"field": "status", "type": "nominal", "scale": {"domain": ["None", "Below", "Above"], "range": ["#4e79a7", "#59a14f", "#e15759"]}, "legend": null}}},
                       {"mark": {"type": "text", "align": "left", "dx": -18, "fontSize": 5.8, "color": "#666"}, "encoding": {"x": {"datum": 0, "type": "quantitative"}, "text": {"field": "pct", "type": "quantitative", "format": ".0%"}}}]},
            {"title": "Workshop State", "data": {"name": "panels"}, "transform": [{"filter": "datum.panel == 'Workshop State'"}], "width": 85, "height": {"step": 12.3},
             "encoding": {"y": {"field": "label", "type": "nominal", "sort": null, "scale": {"type": "band", "paddingInner": 0, "paddingOuter": 0}, "axis": {"title": null, "labelAlign": "left", "labelPadding": 75, "labelLimit": 56, "labelFontSize": 5.8, "labelColor": "#444", "labelOverlap": false}}},
             "layer": [{"mark": {"type": "rule", "strokeWidth": 9, "strokeCap": "butt"}, "encoding": {"x": {"field": "pct", "type": "quantitative", "scale": {"nice": false, "zero": true}, "axis": null}, "x2": {"datum": 0}, "color": {"field": "status", "type": "nominal", "scale": {"domain": ["None", "Below", "Above"], "range": ["#4e79a7", "#59a14f", "#e15759"]}, "legend": null}}},
                       {"mark": {"type": "text", "align": "left", "dx": -18, "fontSize": 5.8, "color": "#666"}, "encoding": {"x": {"datum": 0, "type": "quantitative"}, "text": {"field": "pct", "type": "quantitative", "format": ".0%"}}}]},
            {"title": "Driver Age", "data": {"name": "panels"}, "transform": [{"filter": "datum.panel == 'Driver Age'"}], "width": 58, "height": {"step": 12.3},
             "encoding": {"y": {"field": "label", "type": "nominal", "sort": null, "scale": {"type": "band", "paddingInner": 0, "paddingOuter": 0}, "axis": {"title": null, "labelAlign": "left", "labelPadding": 101, "labelLimit": 82, "labelFontSize": 5.8, "labelColor": "#444", "labelOverlap": false}}},
             "layer": [{"mark": {"type": "rule", "strokeWidth": 9, "strokeCap": "butt"}, "encoding": {"x": {"field": "pct", "type": "quantitative", "scale": {"nice": false, "zero": true}, "axis": null}, "x2": {"datum": 0}, "color": {"field": "status", "type": "nominal", "scale": {"domain": ["None", "Below", "Above"], "range": ["#4e79a7", "#59a14f", "#e15759"]}, "legend": null}}},
                       {"mark": {"type": "text", "align": "left", "dx": -18, "fontSize": 5.8, "color": "#666"}, "encoding": {"x": {"datum": 0, "type": "quantitative"}, "text": {"field": "pct", "type": "quantitative", "format": ".0%"}}}]},
            {"title": "Claim Size", "data": {"name": "panels"}, "transform": [{"filter": "datum.panel == 'Claim Size'"}], "width": 80, "height": {"step": 12.3},
             "encoding": {"y": {"field": "label", "type": "nominal", "sort": null, "scale": {"type": "band", "paddingInner": 0, "paddingOuter": 0}, "axis": {"title": null, "labelAlign": "left", "labelPadding": 78, "labelLimit": 59, "labelFontSize": 5.8, "labelColor": "#444", "labelOverlap": false}}},
             "layer": [{"mark": {"type": "rule", "strokeWidth": 9, "strokeCap": "butt"}, "encoding": {"x": {"field": "pct", "type": "quantitative", "scale": {"nice": false, "zero": true}, "axis": null}, "x2": {"datum": 0}, "color": {"field": "status", "type": "nominal", "scale": {"domain": ["None", "Below", "Above"], "range": ["#4e79a7", "#59a14f", "#e15759"]}, "legend": null}}},
                       {"mark": {"type": "text", "align": "left", "dx": -18, "fontSize": 5.8, "color": "#666"}, "encoding": {"x": {"datum": 0, "type": "quantitative"}, "text": {"field": "pct", "type": "quantitative", "format": ".0%"}}}]},
            {"title": "Vehicle Age", "data": {"name": "panels"}, "transform": [{"filter": "datum.panel == 'Vehicle Age'"}], "width": 79, "height": {"step": 12.3},
             "encoding": {"y": {"field": "label", "type": "nominal", "sort": null, "scale": {"type": "band", "paddingInner": 0, "paddingOuter": 0}, "axis": {"title": null, "labelAlign": "left", "labelPadding": 91, "labelLimit": 72, "labelFontSize": 5.8, "labelColor": "#444", "labelOverlap": false}}},
             "layer": [{"mark": {"type": "rule", "strokeWidth": 9, "strokeCap": "butt"}, "encoding": {"x": {"field": "pct", "type": "quantitative", "scale": {"nice": false, "zero": true}, "axis": null}, "x2": {"datum": 0}, "color": {"field": "status", "type": "nominal", "scale": {"domain": ["None", "Below", "Above"], "range": ["#4e79a7", "#59a14f", "#e15759"]}, "legend": null}}},
                       {"mark": {"type": "text", "align": "left", "dx": -18, "fontSize": 5.8, "color": "#666"}, "encoding": {"x": {"datum": 0, "type": "quantitative"}, "text": {"field": "pct", "type": "quantitative", "format": ".0%"}}}]}
           ]
          },
          {
           "data": {"name": "agents"},
           "title": {"text": "Relationship between Agent & Workshop", "fontSize": 7.8},
           "width": 42, "height": 290,
           "encoding": {
            "y": {"field": "agent", "type": "nominal", "sort": null, "scale": {"type": "band", "paddingInner": 0, "paddingOuter": 0}, "axis": {"title": null, "labelAlign": "left", "labelPadding": 113, "labelLimit": 60, "labelFontSize": 5.5, "labelColor": "#555", "labelLineHeight": 8, "labelOverlap": false, "labelExpr": "datum.value == 'INTERNET / DIGITAL' ? ['INTERNET /', 'DIGITAL'] : datum.value == 'XXX MOTORS SDN BHD' ? ['XXX MOTORS', 'SDN BHD'] : datum.value == 'YYY MOTOR TRADING SDN BHD' ? ['YYY MOTOR', 'TRADING SDN', 'BHD'] : datum.value == 'ZZZ MOTOR TRADING SDN BHD(PJ BRANCH)' ? ['ZZZ MOTOR', 'TRADING SDN', 'BHD(PJ BRANCH)'] : datum.value == 'ABC AUTO SDN BHD' ? ['ABC AUTO SDN', 'BHD'] : datum.value"}},
            "yOffset": {"field": "part", "type": "nominal", "scale": {"domain": ["Other workshops", "Top workshop"], "paddingInner": 0}},
            "x": {"field": "part", "type": "nominal", "scale": {"type": "point", "domain": ["Top workshop", "Other workshops"], "padding": 1}, "axis": null}
           },
           "layer": [
            {"mark": {"type": "circle", "opacity": 0.85}, "encoding": {"size": {"field": "share", "type": "quantitative", "scale": {"domain": [0, 1], "range": [0, 1100]}, "legend": null}, "color": {"condition": [{"test": "datum.part == 'Other workshops'", "value": "#e9c8d0"}, {"test": "datum.status == 'Above'", "value": "#f4b4b7"}], "value": "#bcdeb5"}}},
            {"mark": {"type": "text", "fontSize": 5.5, "dy": 6}, "encoding": {"text": {"condition": {"test": "datum.part == 'Other workshops'", "value": ""}, "field": "share", "type": "quantitative", "format": ".0%"}, "color": {"condition": {"test": "datum.status == 'Above'", "value": "#e15759"}, "value": "#59a14f"}}}
           ]
          }
         ]
        }
       ]
      }
     ]
    }
   ]
  }
 ]
}
